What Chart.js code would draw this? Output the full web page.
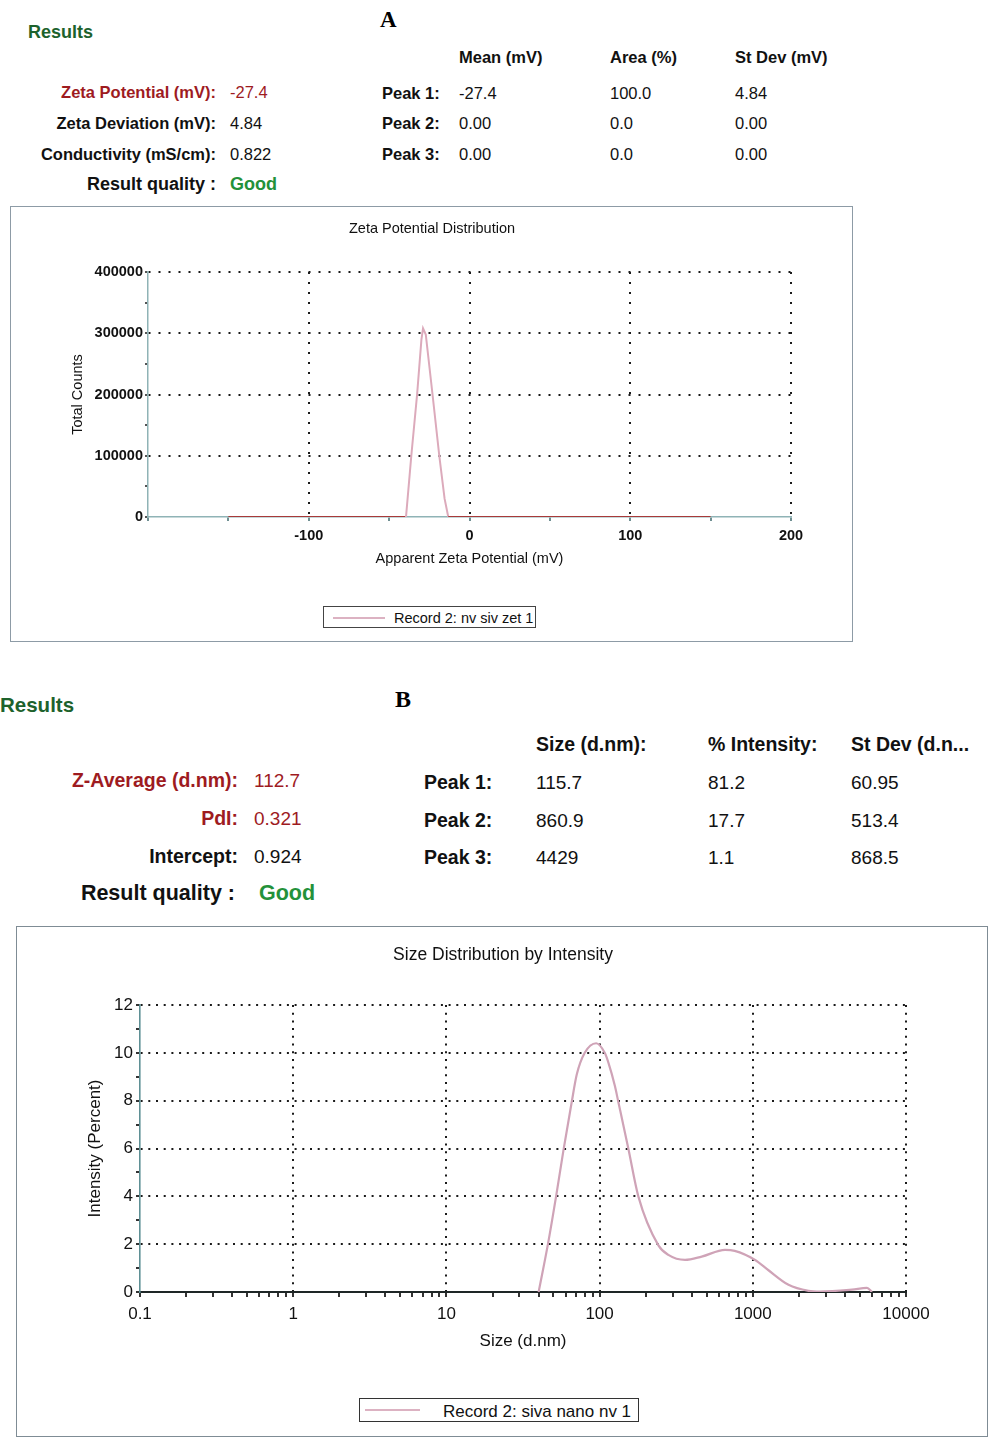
<!DOCTYPE html>
<html>
<head>
<meta charset="utf-8">
<title>Zeta potential and size distribution</title>
<script src="https://cdn.jsdelivr.net/npm/chart.js@4.4.1/dist/chart.umd.min.js"></script>
<style>
  html, body { margin: 0; padding: 0; background: #fff; }
  body { width: 988px; height: 1439px; position: relative; overflow: hidden;
         font-family: "Liberation Sans", Arial, sans-serif; color: #111; }
  .t { position: absolute; white-space: nowrap; line-height: 1; }
  .b { font-weight: bold; }
  .red { color: #9e1b1f; }
  .grn { color: #23913a; font-weight: bold; }
  .hd { color: #1d622c; font-weight: bold; }
  .serif { font-family: "Liberation Serif", "Times New Roman", serif; font-weight: bold; color: #000; }
  .box { position: absolute; border: 1.5px solid #8d9ba6; box-sizing: border-box; }
  .cv { position: absolute; }
  .legend { position: absolute; border: 1px solid #444; box-sizing: border-box; background: #fff; }
  .legend i { position: absolute; height: 0; border-top: 2px solid #dcb2c2; }
  .legend span { position: absolute; white-space: nowrap; line-height: 1; }
</style>
</head>
<body>

<!-- ===== Panel A text ===== -->
<div class="t hd" style="left:28px; top:23px; font-size:18px;">Results</div>
<div class="t serif" style="left:380px; top:8px; font-size:23px;">A</div>

<div class="t b red" style="right:772px; top:84px; font-size:16.5px;">Zeta Potential (mV):</div>
<div class="t b" style="right:772px; top:115px; font-size:16.5px;">Zeta Deviation (mV):</div>
<div class="t b" style="right:772px; top:146px; font-size:16.5px;">Conductivity (mS/cm):</div>
<div class="t b" style="right:772px; top:175px; font-size:18px;">Result quality :</div>
<div class="t red" style="left:230px; top:84px; font-size:16.5px;">-27.4</div>
<div class="t" style="left:230px; top:115px; font-size:16.5px;">4.84</div>
<div class="t" style="left:230px; top:146px; font-size:16.5px;">0.822</div>
<div class="t grn" style="left:230px; top:175px; font-size:18px;">Good</div>

<div class="t b" style="left:459px; top:49px; font-size:16.5px;">Mean (mV)</div>
<div class="t b" style="left:610px; top:49px; font-size:16.5px;">Area (%)</div>
<div class="t b" style="left:735px; top:49px; font-size:16.5px;">St Dev (mV)</div>
<div class="t b" style="left:382px; top:85px; font-size:16.5px;">Peak 1:</div>
<div class="t b" style="left:382px; top:115px; font-size:16.5px;">Peak 2:</div>
<div class="t b" style="left:382px; top:146px; font-size:16.5px;">Peak 3:</div>
<div class="t" style="left:459px; top:85px; font-size:16.5px;">-27.4</div>
<div class="t" style="left:459px; top:115px; font-size:16.5px;">0.00</div>
<div class="t" style="left:459px; top:146px; font-size:16.5px;">0.00</div>
<div class="t" style="left:610px; top:85px; font-size:16.5px;">100.0</div>
<div class="t" style="left:610px; top:115px; font-size:16.5px;">0.0</div>
<div class="t" style="left:610px; top:146px; font-size:16.5px;">0.0</div>
<div class="t" style="left:735px; top:85px; font-size:16.5px;">4.84</div>
<div class="t" style="left:735px; top:115px; font-size:16.5px;">0.00</div>
<div class="t" style="left:735px; top:146px; font-size:16.5px;">0.00</div>

<div class="box" style="left:10px; top:206px; width:843px; height:436px;"></div>
<canvas id="zetaChart" class="cv" width="843" height="436" style="left:10px; top:206px;"></canvas>
<div class="t" style="left:432px; top:221px; font-size:14.5px; transform:translateX(-50%);">Zeta Potential Distribution</div>
<div class="legend" style="left:323px; top:606px; width:213px; height:22px;">
  <i style="left:9px; top:10px; width:52px;"></i>
  <span style="left:70px; top:4px; font-size:14.5px;">Record 2: nv siv zet 1</span>
</div>

<!-- ===== Panel B text ===== -->
<div class="t hd" style="left:0px; top:695px; font-size:20.5px;">Results</div>
<div class="t serif" style="left:395px; top:687px; font-size:24px;">B</div>

<div class="t b red" style="right:750px; top:771px; font-size:19.5px;">Z-Average (d.nm):</div>
<div class="t b red" style="right:750px; top:809px; font-size:19.5px;">PdI:</div>
<div class="t b" style="right:750px; top:847px; font-size:19.5px;">Intercept:</div>
<div class="t b" style="right:753px; top:883px; font-size:21.5px;">Result quality :</div>
<div class="t red" style="left:254px; top:771px; font-size:19px;">112.7</div>
<div class="t red" style="left:254px; top:809px; font-size:19px;">0.321</div>
<div class="t" style="left:254px; top:847px; font-size:19px;">0.924</div>
<div class="t grn" style="left:259px; top:883px; font-size:21.5px;">Good</div>

<div class="t b" style="left:536px; top:735px; font-size:19.5px;">Size (d.nm):</div>
<div class="t b" style="left:708px; top:735px; font-size:19.5px;">% Intensity:</div>
<div class="t b" style="left:851px; top:735px; font-size:19.5px;">St Dev (d.n...</div>
<div class="t b" style="left:424px; top:773px; font-size:19.5px;">Peak 1:</div>
<div class="t b" style="left:424px; top:811px; font-size:19.5px;">Peak 2:</div>
<div class="t b" style="left:424px; top:848px; font-size:19.5px;">Peak 3:</div>
<div class="t" style="left:536px; top:773px; font-size:19px;">115.7</div>
<div class="t" style="left:536px; top:811px; font-size:19px;">860.9</div>
<div class="t" style="left:536px; top:848px; font-size:19px;">4429</div>
<div class="t" style="left:708px; top:773px; font-size:19px;">81.2</div>
<div class="t" style="left:708px; top:811px; font-size:19px;">17.7</div>
<div class="t" style="left:708px; top:848px; font-size:19px;">1.1</div>
<div class="t" style="left:851px; top:773px; font-size:19px;">60.95</div>
<div class="t" style="left:851px; top:811px; font-size:19px;">513.4</div>
<div class="t" style="left:851px; top:848px; font-size:19px;">868.5</div>

<div class="box" style="left:16px; top:926px; width:972px; height:511px; border-color:#7f8c95;"></div>
<canvas id="sizeChart" class="cv" width="972" height="511" style="left:16px; top:926px;"></canvas>
<div class="t" style="left:503px; top:945.5px; font-size:17.5px; transform:translateX(-50%);">Size Distribution by Intensity</div>
<div class="legend" style="left:359px; top:1398px; width:280px; height:24px; border:1.5px solid #333;">
  <i style="left:5px; top:10px; width:55px;"></i>
  <span style="left:83px; top:3.5px; font-size:17px;">Record 2: siva nano nv 1</span>
</div>

<script>
/* ================================
   Data
================================ */
// A: zeta potential distribution
const zetaMv     = [-150, -39.5, -36.2, -32.6, -29.9, -28.9, -27.2, -23, -18.8, -15.5, -13.2, 150];
const zetaCounts = [0, 0, 100000, 200000, 290000, 308000, 298000, 200000, 100000, 30000, 0, 0];
const zetaTicks  = [-100, 0, 100, 200];
const countTicks = [0, 100000, 200000, 300000, 400000];

// B: size distribution by intensity
const sizeNm       = [40, 46, 52, 58, 65.6, 71, 80, 95, 108, 114, 126, 132, 154, 179, 242, 281, 361, 464, 659, 762, 1035, 1260, 1710, 2310, 2750, 4440, 5560, 6000];
const intensityPct = [0, 2.0, 4.0, 5.9, 7.9, 9.1, 10.0, 10.4, 10.0, 9.6, 8.6, 8.0, 6.0, 4.0, 1.95, 1.55, 1.34, 1.48, 1.76, 1.72, 1.34, 0.92, 0.3, 0.05, 0.02, 0.1, 0.17, 0];
const sizeTicks      = [0.1, 1, 10, 100, 1000, 10000];
const intensityTicks = [0, 2, 4, 6, 8, 10, 12];

Chart.defaults.font.family = '"Liberation Sans", Arial, sans-serif';
Chart.defaults.color = '#111';

const clear = 'rgba(0,0,0,0)';

/* ================================
   Zeta Potential Chart
================================ */
function renderZetaChart() {
    const ctx = document.getElementById("zetaChart");

    new Chart(ctx, {
        type: 'line',
        data: {
            datasets: [{
                label: 'Record 2: nv siv zet 1',
                data: zetaMv.map((x, i) => ({ x: x, y: zetaCounts[i] })),
                borderColor: '#dcaabb',
                borderWidth: 2,
                pointRadius: 0,
                tension: 0,
                segment: {
                    borderColor: c => (c.p0.parsed.y === 0 && c.p1.parsed.y === 0) ? '#a83a3a' : undefined
                }
            }]
        },
        options: {
            responsive: false,
            animation: false,
            layout: { padding: { left: 59, right: 62, top: 66, bottom: 74 } },
            plugins: { legend: { display: false }, tooltip: { enabled: false } },
            scales: {
                x: {
                    type: 'linear',
                    min: -200, max: 200,
                    afterFit: s => { s.height = 51; },
                    ticks: {
                        stepSize: 50, autoSkip: false, maxRotation: 0, padding: 6,
                        font: { size: 14.5, weight: 'bold' }, color: '#111',
                        callback: v => (zetaTicks.includes(v) ? String(v) : '')
                    },
                    grid: {
                        color: c => (c.tick && zetaTicks.includes(c.tick.value)) ? '#1a1a1a' : clear,
                        lineWidth: 2,
                        tickLength: 4,
                        tickColor: '#6f8f92'
                    },
                    border: { color: '#8fb3b6', width: 1.5, dash: [2, 8] },
                    title: {
                        display: true, text: 'Apparent Zeta Potential (mV)',
                        font: { size: 14.5 }, padding: 0, color: '#111'
                    }
                },
                y: {
                    min: 0, max: 400000,
                    afterFit: s => { s.width = 79; },
                    ticks: {
                        stepSize: 50000, autoSkip: false, padding: 2,
                        font: { size: 14.5, weight: 'bold' }, color: '#111',
                        callback: v => (countTicks.includes(v) ? String(v) : '')
                    },
                    grid: {
                        color: c => (c.tick && c.tick.value > 0 && countTicks.includes(c.tick.value)) ? '#1a1a1a' : clear,
                        lineWidth: 2,
                        tickLength: 3,
                        tickColor: '#555'
                    },
                    border: { color: '#8fb3b6', width: 1.5, dash: [2, 8] },
                    title: {
                        display: true, text: 'Total Counts',
                        font: { size: 14.5 }, padding: 0, color: '#111'
                    }
                }
            }
        }
    });
}

/* ================================
   Size Distribution Chart
================================ */
function renderSizeChart() {
    const ctx = document.getElementById("sizeChart");

    new Chart(ctx, {
        type: 'line',
        data: {
            datasets: [{
                label: 'Record 2: siva nano nv 1',
                data: sizeNm.map((x, i) => ({ x: x, y: intensityPct[i] })),
                borderColor: '#cfa3b7',
                borderWidth: 2.2,
                pointRadius: 0,
                tension: 0.4,
                cubicInterpolationMode: 'monotone'
            }]
        },
        options: {
            responsive: false,
            animation: false,
            layout: { padding: { left: 69, right: 82, top: 79, bottom: 85 } },
            plugins: { legend: { display: false }, tooltip: { enabled: false } },
            scales: {
                x: {
                    type: 'logarithmic',
                    min: 0.1, max: 10000,
                    afterFit: s => { s.height = 60; },
                    afterBuildTicks: axis => {
                        const t = [];
                        sizeTicks.forEach((d, i) => {
                            t.push({ value: d });
                            if (i < sizeTicks.length - 1) {
                                for (let m = 2; m <= 9; m++) t.push({ value: d * m });
                            }
                        });
                        axis.ticks = t;
                    },
                    ticks: {
                        autoSkip: false, maxRotation: 0, padding: 7,
                        font: { size: 17 }, color: '#111',
                        callback: v => (sizeTicks.includes(v) ? String(v) : '')
                    },
                    grid: {
                        color: c => (c.tick && c.tick.value > 0.1 && sizeTicks.includes(c.tick.value)) ? '#1a1a1a' : clear,
                        lineWidth: 2,
                        tickLength: 5,
                        tickColor: '#333'
                    },
                    border: { color: '#1e2626', width: 2, dash: [2, 5.7] },
                    title: {
                        display: true, text: 'Size (d.nm)',
                        font: { size: 17 }, padding: 0, color: '#111'
                    }
                },
                y: {
                    min: 0, max: 12,
                    afterFit: s => { s.width = 55; },
                    ticks: {
                        stepSize: 1, autoSkip: false, padding: 3,
                        font: { size: 17 }, color: '#111',
                        callback: v => (intensityTicks.includes(v) ? String(v) : '')
                    },
                    grid: {
                        color: c => (c.tick && c.tick.value > 0 && intensityTicks.includes(c.tick.value)) ? '#1a1a1a' : clear,
                        lineWidth: 2,
                        tickLength: 4,
                        tickColor: '#333'
                    },
                    border: { color: '#5f9095', width: 1.6, dash: [2, 5.7] },
                    title: {
                        display: true, text: 'Intensity (Percent)',
                        font: { size: 17 }, padding: 0, color: '#111'
                    }
                }
            }
        }
    });
}

/* ================================
   Initialize
================================ */
document.addEventListener("DOMContentLoaded", () => {
    renderZetaChart();
    renderSizeChart();
});
</script>
</body>
</html>
